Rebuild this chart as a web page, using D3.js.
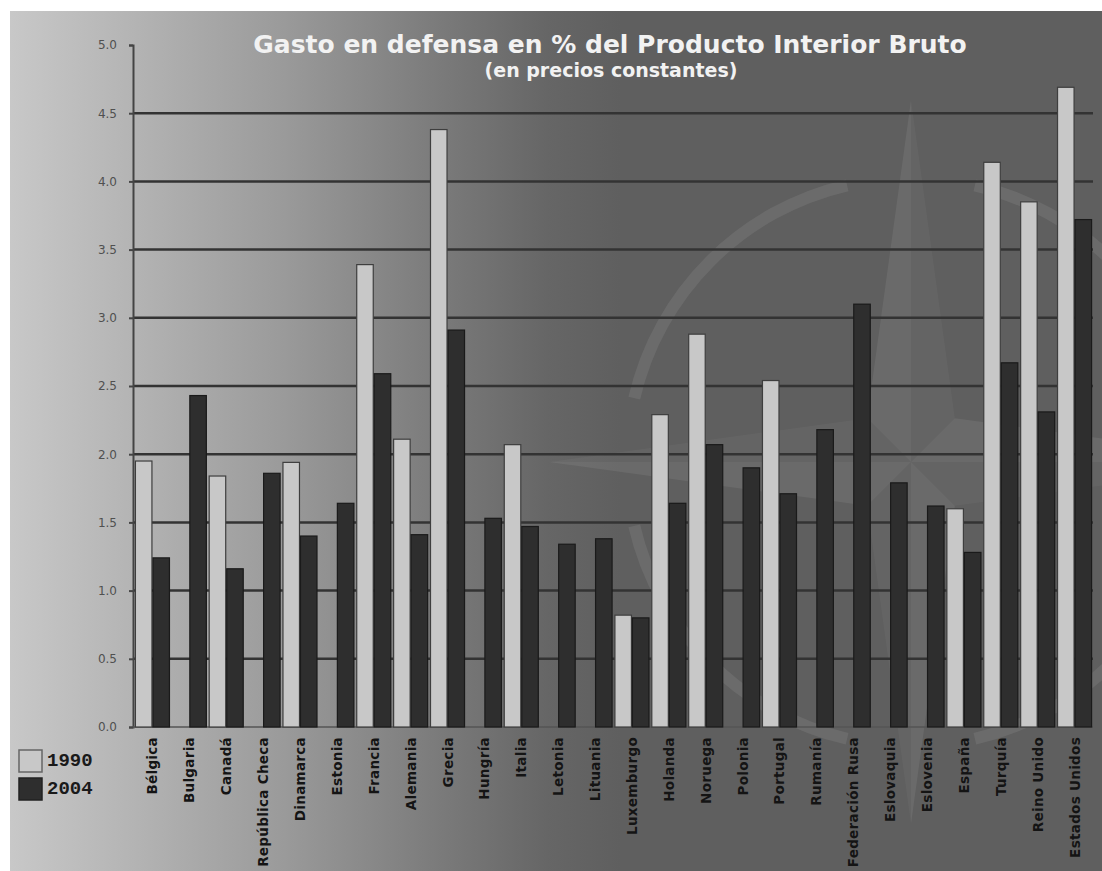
<!DOCTYPE html>
<html>
<head>
<meta charset="utf-8">
<script src="https://cdn.jsdelivr.net/npm/d3@7"></script>
<style>
  html, body { margin: 0; padding: 0; background: #fff; }
  #chart { width: 1102px; height: 871px; }
</style>
</head>
<body>
<div id="chart"></div>
<script>
const categories = ["Bélgica", "Bulgaria", "Canadá", "República Checa", "Dinamarca", "Estonia", "Francia",
  "Alemania", "Grecia", "Hungría", "Italia", "Letonia", "Lituania", "Luxemburgo", "Holanda", "Noruega",
  "Polonia", "Portugal", "Rumanía", "Federación Rusa", "Eslovaquia", "Eslovenia", "España", "Turquía",
  "Reino Unido", "Estados Unidos"];
const values1990 = [1.95, null, 1.84, null, 1.94, null, 3.39, 2.11, 4.38, null, 2.07, null, null, 0.82,
  2.29, 2.88, null, 2.54, null, null, null, null, 1.60, 4.14, 3.85, 4.69];
const values2004 = [1.24, 2.43, 1.16, 1.86, 1.40, 1.64, 2.59, 1.41, 2.91, 1.53, 1.47, 1.34, 1.38, 0.80,
  1.64, 2.07, 1.90, 1.71, 2.18, 3.10, 1.79, 1.62, 1.28, 2.67, 2.31, 3.72];
const seriesNames = ["1990", "2004"];
const yTicks = [0, 0.5, 1, 1.5, 2, 2.5, 3, 3.5, 4, 4.5, 5];

const width = 1102, height = 871;
const svg = d3.select('#chart').append('svg')
  .attr('width', width)
  .attr('height', height);

// background gradient
const defs = svg.append('defs');
const grad = defs.append('linearGradient')
  .attr('id', 'bg')
  .attr('gradientUnits', 'userSpaceOnUse')
  .attr('x1', 10).attr('y1', 0).attr('x2', 620).attr('y2', 0);
[[0, '#c8c8c8'], [0.2, '#b4b4b4'], [0.45, '#9a9a9a'], [0.7, '#7b7b7b'], [0.88, '#666666'], [1, '#5f5f5f']]
  .forEach(s => grad.append('stop').attr('offset', s[0]).attr('stop-color', s[1]));

svg.append('rect')
  .attr('x', 10).attr('y', 11)
  .attr('width', width - 10).attr('height', height - 11)
  .attr('fill', 'url(#bg)');

// faint compass watermark
const wm = svg.append('g').attr('transform', 'translate(911,462)');
const R = 362, r = 62, ring = 284;
[0, 90, 180, 270].forEach(a => {
  const rad = a * Math.PI / 180;
  const tip = [Math.sin(rad) * R, -Math.cos(rad) * R];
  const s1 = [Math.sin(rad - Math.PI / 4) * r, -Math.cos(rad - Math.PI / 4) * r];
  const s2 = [Math.sin(rad + Math.PI / 4) * r, -Math.cos(rad + Math.PI / 4) * r];
  wm.append('path').attr('d', `M0,0L${s1}L${tip}Z`).attr('fill', '#fff').attr('opacity', 0.07);
  wm.append('path').attr('d', `M0,0L${tip}L${s2}Z`).attr('fill', '#fff').attr('opacity', 0.035);
});
const arc = d3.arc().innerRadius(ring - 6).outerRadius(ring + 6);
[0, 90, 180, 270].forEach(a => {
  wm.append('path')
    .attr('d', arc({ startAngle: (a + 13) * Math.PI / 180, endAngle: (a + 77) * Math.PI / 180 }))
    .attr('fill', '#fff').attr('opacity', 0.08);
});

const margin = { left: 134, right: 1093, top: 45, bottom: 727 };
const x = d3.scaleBand()
  .domain(categories)
  .range([margin.left, margin.right])
  .paddingInner(0.05)
  .paddingOuter(0.025);
const xs = d3.scaleBand().domain(seriesNames).range([0, x.bandwidth()]);
const y = d3.scaleLinear().domain([0, 5]).range([margin.bottom, margin.top]);

// gridlines
svg.append('g')
  .selectAll('line')
  .data(yTicks.filter(t => t > 0 && t < 5))
  .enter().append('line')
  .attr('x1', margin.left).attr('x2', margin.right)
  .attr('y1', d => y(d)).attr('y2', d => y(d))
  .attr('stroke', '#333')
  .attr('stroke-width', 2.5);

// y axis
const yAxis = svg.append('g')
  .attr('transform', `translate(${margin.left - 1},0)`)
  .call(d3.axisLeft(y).tickValues(yTicks).tickFormat(d3.format('.1f')).tickSize(4).tickPadding(12));
yAxis.select('.domain').attr('stroke', '#444').attr('stroke-width', 2);
yAxis.selectAll('.tick line').attr('stroke', '#444').attr('stroke-width', 2);
yAxis.selectAll('.tick text')
  .attr('fill', '#505050')
  .attr('font-family', '"DejaVu Sans", Verdana, sans-serif')
  .attr('font-size', 12);

// baseline
svg.append('line')
  .attr('x1', margin.left - 1).attr('x2', margin.right)
  .attr('y1', y(0)).attr('y2', y(0))
  .attr('stroke', '#555').attr('stroke-width', 1.5);

// bars
const barData = [];
categories.forEach((c, i) => {
  if (values1990[i] != null) barData.push({ cat: c, s: '1990', v: values1990[i] });
  if (values2004[i] != null) barData.push({ cat: c, s: '2004', v: values2004[i] });
});

svg.append('g')
  .selectAll('rect')
  .data(barData)
  .enter().append('rect')
  .attr('x', d => x(d.cat) + xs(d.s) + 0.5)
  .attr('y', d => y(d.v))
  .attr('width', xs.bandwidth() - 1)
  .attr('height', d => y(0) - y(d.v))
  .attr('fill', d => d.s === '1990' ? '#c8c8c8' : '#2e2e2e')
  .attr('stroke', d => d.s === '1990' ? '#3e3e3e' : '#1a1a1a')
  .attr('stroke-width', 1.2);

// category labels
svg.append('g')
  .selectAll('text')
  .data(categories)
  .enter().append('text')
  .attr('transform', d => `translate(${x(d) + x.bandwidth() / 2 + 5},737) rotate(-90)`)
  .attr('text-anchor', 'end')
  .attr('font-family', '"DejaVu Sans", Verdana, sans-serif')
  .attr('font-weight', 'bold')
  .attr('font-size', 13.5)
  .attr('letter-spacing', 0.3)
  .attr('fill', '#141414')
  .text(d => d);

// title
svg.append('text')
  .attr('x', 610).attr('y', 53)
  .attr('text-anchor', 'middle')
  .attr('font-family', '"DejaVu Sans", Verdana, sans-serif')
  .attr('font-weight', 'bold')
  .attr('font-size', 25)
  .attr('fill', '#f2f2f2')
  .text('Gasto en defensa en % del Producto Interior Bruto');

svg.append('text')
  .attr('x', 611).attr('y', 77)
  .attr('text-anchor', 'middle')
  .attr('font-family', '"DejaVu Sans", Verdana, sans-serif')
  .attr('font-weight', 'bold')
  .attr('font-size', 19)
  .attr('fill', '#f2f2f2')
  .text('(en precios constantes)');

// legend
const legend = svg.append('g')
  .selectAll('g')
  .data(seriesNames)
  .enter().append('g')
  .attr('transform', (d, i) => `translate(19,${750 + i * 28})`);
legend.append('rect')
  .attr('width', 23).attr('height', 22)
  .attr('fill', d => d === '1990' ? '#c8c8c8' : '#2e2e2e')
  .attr('stroke', d => d === '1990' ? '#666' : '#222')
  .attr('stroke-width', 1.5);
legend.append('text')
  .attr('x', 28).attr('y', 16)
  .attr('font-family', '"Liberation Mono", "Courier New", monospace')
  .attr('font-weight', 'bold')
  .attr('font-size', 19)
  .attr('fill', '#1a1a1a')
  .text(d => d);
</script>
</body>
</html>
